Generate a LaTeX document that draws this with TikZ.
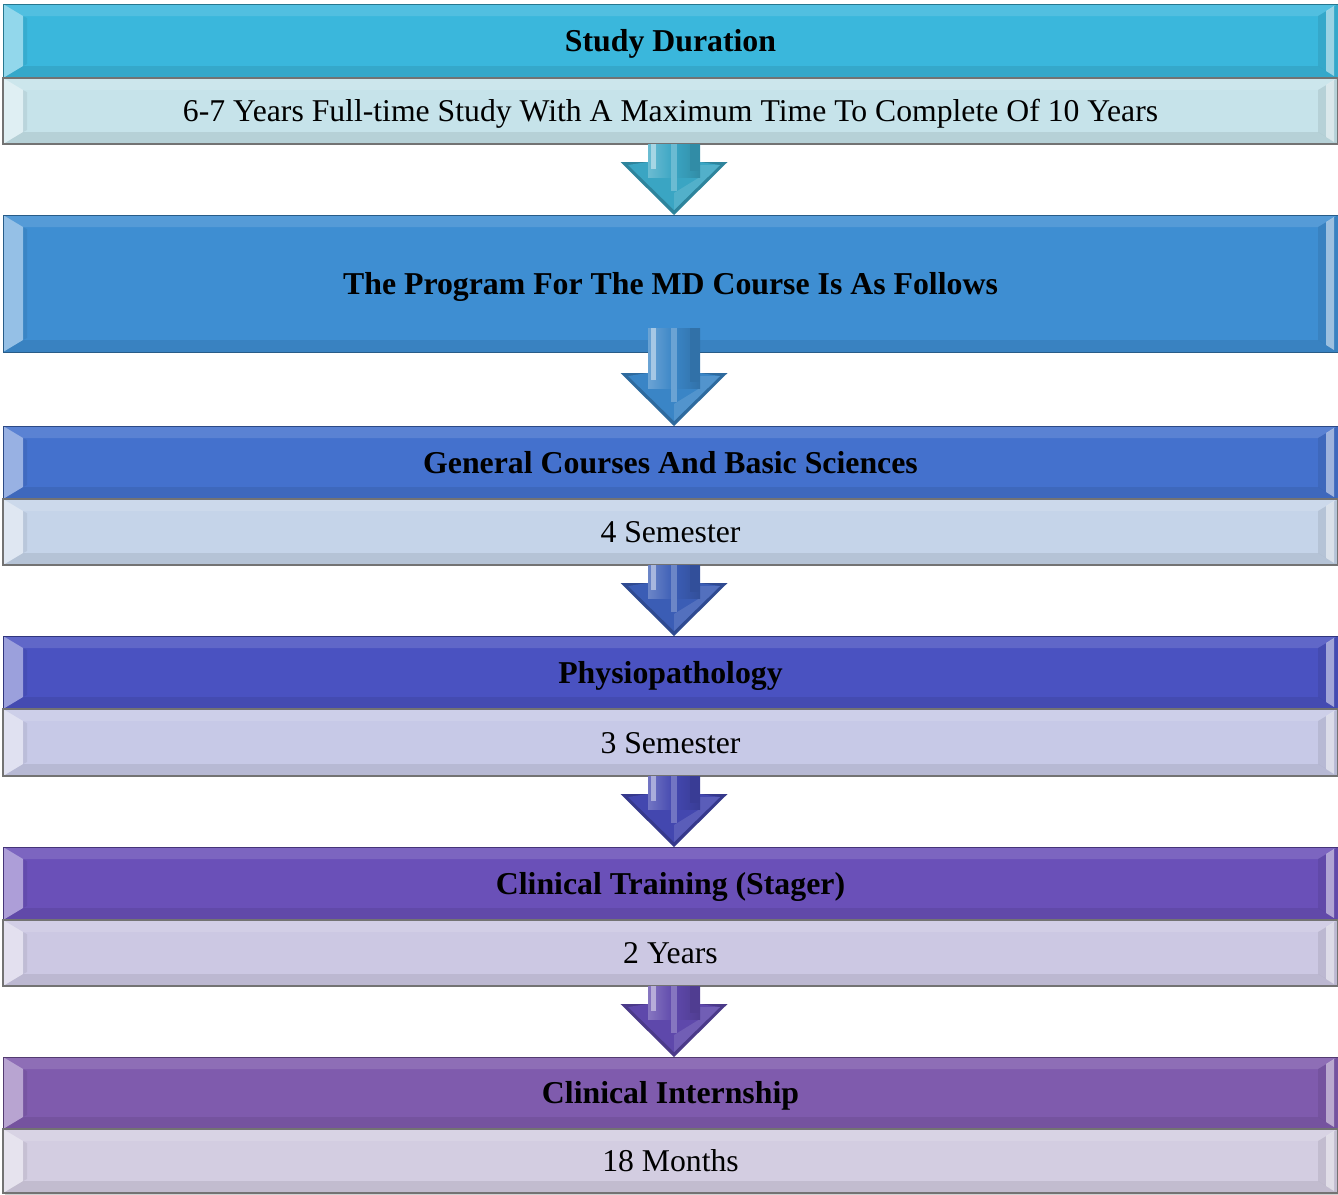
\documentclass[tikz,border=0pt]{standalone}
\usepackage{fontspec}
\setmainfont{Liberation Serif}
\usetikzlibrary{calc,backgrounds}
\definecolor{hA}{RGB}{58,183,220}
\definecolor{sA}{RGB}{198,227,234}
\definecolor{hB}{RGB}{62,142,210}
\definecolor{hC}{RGB}{68,113,205}
\definecolor{sC}{RGB}{197,212,233}
\definecolor{hD}{RGB}{74,82,193}
\definecolor{sD}{RGB}{199,201,231}
\definecolor{hE}{RGB}{106,80,184}
\definecolor{sE}{RGB}{204,200,227}
\definecolor{hF}{RGB}{127,91,173}
\definecolor{sF}{RGB}{211,205,225}
\definecolor{aA}{RGB}{58,165,195}
\definecolor{aB}{RGB}{58,133,198}
\definecolor{aC}{RGB}{59,93,181}
\definecolor{aD}{RGB}{67,71,175}
\definecolor{aE}{RGB}{94,72,171}
\tikzset{
  bev/.style={path picture={
    \path (path picture bounding box.north west) coordinate (pA)
          (path picture bounding box.north east) coordinate (pB)
          (path picture bounding box.south east) coordinate (pC)
          (path picture bounding box.south west) coordinate (pD);
    \fill[white,opacity=.12] (pA) -- (pB) -- ($(pB)+(-20pt,-12pt)$) -- ($(pA)+(20pt,-12pt)$) -- cycle;
    \fill[black,opacity=.08] (pD) -- (pC) -- ($(pC)+(-20pt,12pt)$) -- ($(pD)+(20pt,12pt)$) -- cycle;
    \fill[white,opacity=.45] (pA) -- ($(pA)+(20pt,-12pt)$) -- ($(pD)+(20pt,12pt)$) -- (pD) -- cycle;
    \fill[black,opacity=.06] ($(pA)+(20pt,-12pt)$) -- ($(pA)+(24pt,-14pt)$) -- ($(pD)+(24pt,14pt)$) -- ($(pD)+(20pt,12pt)$) -- cycle;
    \fill[black,opacity=.08] (pB) -- ($(pB)+(-20pt,-12pt)$) -- ($(pC)+(-20pt,12pt)$) -- (pC) -- cycle;
    \fill[white,opacity=.5] ($(pB)+(-12pt,-7pt)$) -- ($(pB)+(-4pt,-2pt)$) -- ($(pC)+(-4pt,2pt)$) -- ($(pC)+(-12pt,7pt)$) -- cycle;
  }},
  hdr/.style={draw=#1!65!black, fill=#1, line width=1pt, minimum width=1335pt,
    minimum height=74pt, anchor=north west, inner sep=0pt, outer sep=0pt,
    text height=28pt, text depth=7pt,
    font=\fontsize{31.8}{38}\selectfont\bfseries, bev},
  sub/.style={draw=black!55, fill=#1, line width=1.2pt, minimum width=1335pt,
    minimum height=66pt, anchor=north west, inner sep=0pt, outer sep=0pt,
    text height=28pt, text depth=7pt,
    font=\fontsize{31.7}{38}\selectfont, bev},
  shd/.style={fill=black!40, opacity=.45},
}
\newcommand\flowarrow[4]{%
  \path (#1.south) ++(3.5pt,#3) coordinate (fT) (#2.north) ++(3.5pt,0pt) coordinate (fP);
  \fill[#4!80!black] ($(fP)+(-26pt,53pt)$) -- ($(fP)+(-53.5pt,53pt)$) -- (fP) -- ($(fP)+(53.5pt,53pt)$) -- ($(fP)+(26pt,53pt)$) -- cycle;
  \fill[#4] ($(fP)+(-26pt,53pt)$) -- ($(fP)+(-46pt,50pt)$) -- ($(fP)+(0pt,5pt)$) -- ($(fP)+(46pt,50pt)$) -- ($(fP)+(26pt,53pt)$) -- cycle;
  \fill[#4!88!white] ($(fP)+(0pt,5pt)$) -- ($(fP)+(46pt,50pt)$) -- ($(fP)+(26pt,50pt)$) -- ($(fP)+(26pt,38pt)$) -- ($(fP)+(0pt,22pt)$) -- cycle;
  \shade[left color=#4!75!white, right color=#4!85!black, middle color=#4]
    ($(fT)+(-26pt,0pt)$) rectangle ($(fP)+(26pt,38pt)$);
  \fill[#4!45!white] ($(fT)+(-23pt,0pt)$) rectangle ($(fP)+(-18pt,46pt)$);
  \fill[#4!75!white] ($(fT)+(-3pt,0pt)$) rectangle ($(fP)+(3pt,24pt)$);
  \fill[#4!85!black] ($(fT)+(16pt,0pt)$) rectangle ($(fP)+(26pt,44pt)$);
}
\begin{document}
\begin{tikzpicture}[x=1pt,y=-1pt]
\useasboundingbox (0,0) rectangle (1338,1194);
\fill[white] (0,0) rectangle (1338,1194);
% boxes
\node[hdr=hA] (h1) at (3,4) {Study Duration};
\node[sub=sA] (s1) at (h1.south west) {6-7 Years Full-time Study With A Maximum Time To Complete Of 10 Years};
\node[hdr=hB, minimum height=137pt] (h2) at (3,215) {The Program For The MD Course Is As Follows};
\node[hdr=hC, minimum height=73pt] (h3) at (3,426) {General Courses And Basic Sciences};
\node[sub=sC] (s3) at (h3.south west) {4 Semester};
\node[hdr=hD, minimum height=73pt] (h4) at (3,636) {Physiopathology};
\node[sub=sD, minimum height=67pt] (s4) at (h4.south west) {3 Semester};
\node[hdr=hE, minimum height=73pt] (h5) at (3,847) {Clinical Training (Stager)};
\node[sub=sE] (s5) at (h5.south west) {2 Years};
\node[hdr=hF, minimum height=72pt] (h6) at (3,1057) {Clinical Internship};
\node[sub=sF, minimum height=64pt] (s6) at (h6.south west) {18 Months};
% shadows
\begin{scope}[on background layer]
  \fill[shd] ($(h1.north west)+(2pt,-3pt)$) rectangle ($(s1.south east)+(2pt,-3pt)$);
  \fill[shd] ($(h2.north west)+(2pt,-3pt)$) rectangle ($(h2.south east)+(2pt,-3pt)$);
  \fill[shd] ($(h3.north west)+(2pt,-3pt)$) rectangle ($(s3.south east)+(2pt,-3pt)$);
  \fill[shd] ($(h4.north west)+(2pt,-3pt)$) rectangle ($(s4.south east)+(2pt,-3pt)$);
  \fill[shd] ($(h5.north west)+(2pt,-3pt)$) rectangle ($(s5.south east)+(2pt,-3pt)$);
  \fill[shd] ($(h6.north west)+(2pt,-3pt)$) rectangle ($(s6.south east)+(2pt,-3pt)$);
\end{scope}
% arrows
\flowarrow{s1}{h2}{0pt}{aA}
\flowarrow{h2}{h3}{24pt}{aB}
\flowarrow{s3}{h4}{0pt}{aC}
\flowarrow{s4}{h5}{0pt}{aD}
\flowarrow{s5}{h6}{0pt}{aE}
\end{tikzpicture}
\end{document}
